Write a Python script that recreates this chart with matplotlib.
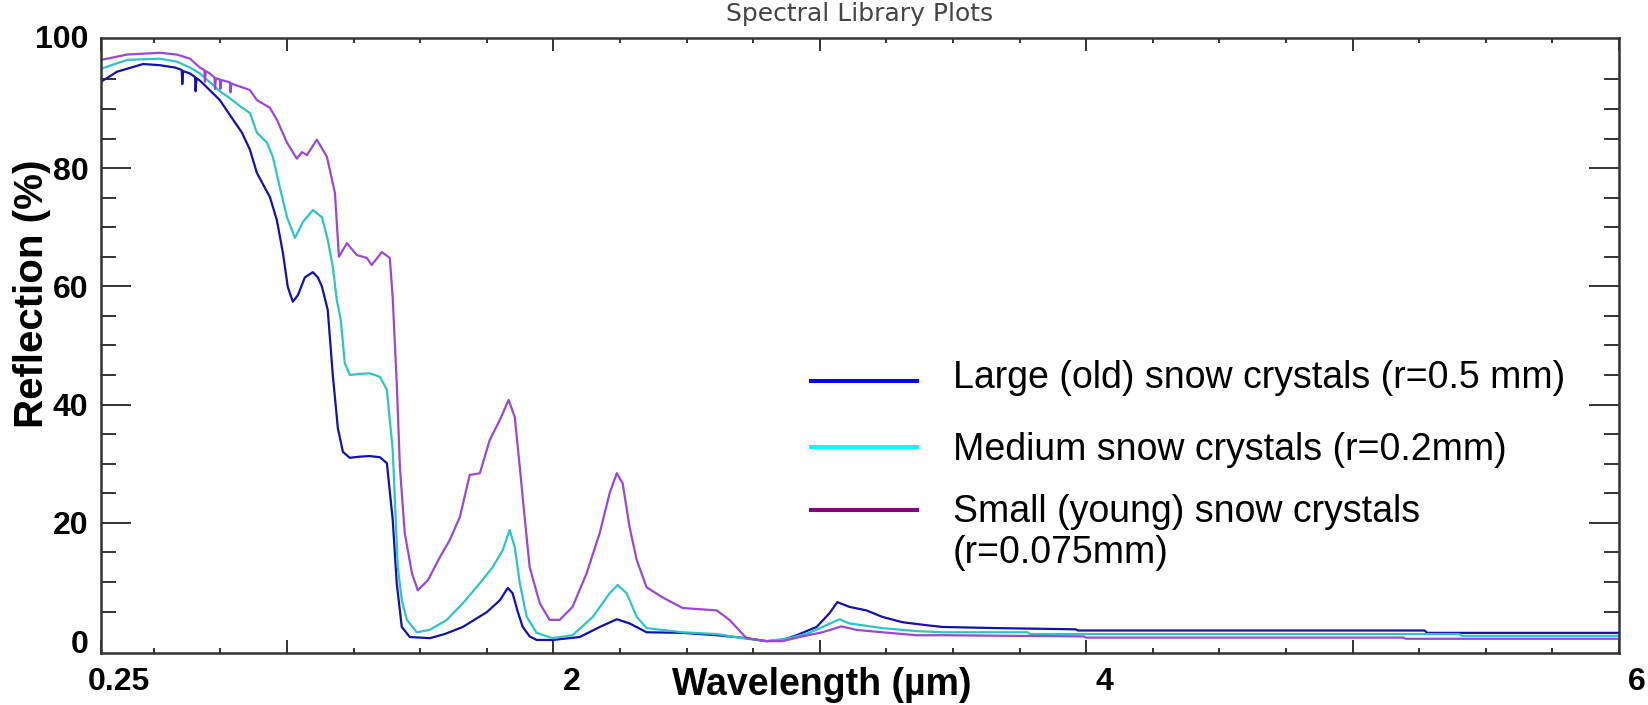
import matplotlib.pyplot as plt
from matplotlib.transforms import ScaledTranslation

plt.rcParams['font.family'] = ['Liberation Sans', 'DejaVu Sans']

# wavelength (um) / reflection (%)
wl_large = [0.302, 0.362, 0.460, 0.523, 0.580, 0.605, 0.607, 0.610, 0.636, 0.655, 0.657, 0.660,
            0.673, 0.703, 0.748, 0.793, 0.831, 0.861, 0.887, 0.913, 0.936, 0.962, 0.985, 1.003,
            1.022, 1.041, 1.067, 1.097, 1.116, 1.131, 1.153, 1.172, 1.191, 1.210, 1.236, 1.273,
            1.311, 1.349, 1.375, 1.397, 1.412, 1.431, 1.461, 1.536, 1.592, 1.660, 1.750, 1.799,
            1.829, 1.847, 1.866, 1.885, 1.911, 1.937, 1.997, 2.099, 2.174, 2.238, 2.286, 2.350,
            2.485, 2.613, 2.725, 2.800, 2.860, 2.913, 2.988, 3.036, 3.066, 3.111, 3.175, 3.235,
            3.310, 3.400, 3.460, 3.670, 3.960, 3.970, 5.270, 5.280, 6.000]
refl_large = [94.6, 96.3, 97.6, 97.4, 97.0, 96.6, 94.2, 96.4, 96.0, 95.4, 93.0, 95.2,
              94.8, 93.5, 91.5, 88.5, 86.0, 83.1, 79.2, 77.0, 75.1, 71.2, 65.6, 59.9,
              57.4, 58.5, 61.5, 62.4, 61.5, 60.0, 56.0, 45.0, 36.0, 32.0, 31.0, 31.2,
              31.3, 31.1, 30.1, 20.5, 9.8, 2.4, 0.7, 0.5, 1.2, 2.4, 4.9, 6.9,
              9.0, 8.1, 5.0, 2.4, 0.8, 0.2, 0.2, 0.7, 2.4, 3.7, 3.0, 1.5,
              1.4, 1.0, 0.5, 0.0, 0.2, 1.0, 2.4, 4.7, 6.6, 5.8, 5.2, 4.1,
              3.2, 2.7, 2.4, 2.2, 2.0, 1.8, 1.8, 1.4, 1.4]

wl_medium = [0.302, 0.400, 0.523, 0.587, 0.636, 0.673, 0.711, 0.748, 0.786, 0.823, 0.861, 0.887,
             0.925, 0.947, 0.973, 1.000, 1.030, 1.060, 1.097, 1.131, 1.153, 1.172, 1.187, 1.202,
             1.217, 1.236, 1.273, 1.311, 1.349, 1.375, 1.397, 1.405, 1.416, 1.431, 1.450, 1.487,
             1.536, 1.600, 1.660, 1.724, 1.772, 1.810, 1.836, 1.855, 1.874, 1.900, 1.937, 1.997,
             2.072, 2.148, 2.211, 2.241, 2.275, 2.313, 2.350, 2.485, 2.613, 2.710, 2.800, 2.886,
             2.961, 3.025, 3.074, 3.111, 3.235, 3.363, 3.460, 3.780, 3.790, 5.400, 5.410, 6.000]
refl_medium = [96.8, 98.3, 98.5, 98.0, 97.0, 96.0, 94.5, 93.0, 91.8, 90.5, 89.3, 86.0,
               84.3, 81.9, 76.8, 71.7, 68.2, 70.9, 72.9, 71.7, 67.9, 63.3, 57.7, 54.3,
               47.0, 45.0, 45.2, 45.3, 44.7, 42.5, 32.3, 23.9, 12.5, 6.9, 3.6, 1.5,
               1.9, 3.6, 6.4, 9.8, 12.5, 15.4, 18.8, 15.9, 9.8, 4.1, 1.4, 0.5,
               1.0, 4.1, 8.1, 9.5, 8.1, 4.1, 2.2, 1.5, 1.2, 0.5, 0.0, 0.5,
               1.4, 2.7, 3.7, 3.0, 2.2, 1.7, 1.5, 1.5, 1.2, 1.2, 0.9, 0.9]

wl_small = [0.302, 0.400, 0.523, 0.587, 0.636, 0.673, 0.690, 0.692, 0.695, 0.711, 0.728, 0.730,
            0.733, 0.748, 0.750, 0.753, 0.786, 0.788, 0.791, 0.823, 0.861, 0.887, 0.936, 0.962,
            1.000, 1.037, 1.056, 1.075, 1.112, 1.150, 1.180, 1.195, 1.225, 1.262, 1.300, 1.318,
            1.356, 1.386, 1.397, 1.412, 1.424, 1.442, 1.469, 1.491, 1.529, 1.574, 1.611, 1.649,
            1.686, 1.724, 1.761, 1.799, 1.832, 1.855, 1.874, 1.892, 1.911, 1.949, 1.986, 2.024,
            2.072, 2.125, 2.174, 2.211, 2.238, 2.260, 2.286, 2.313, 2.350, 2.410, 2.485, 2.613,
            2.661, 2.725, 2.800, 2.860, 2.924, 3.010, 3.081, 3.138, 3.235, 3.363, 3.460, 3.990,
            4.000, 5.190, 5.200, 6.000]
refl_small = [98.3, 99.2, 99.5, 99.2, 98.5, 97.0, 96.6, 94.6, 96.4, 96.0, 95.3, 93.4,
              95.2, 95.0, 93.4, 94.9, 94.5, 92.8, 94.3, 93.8, 93.2, 91.5, 90.2, 88.2,
              84.3, 81.6, 82.7, 82.2, 84.8, 81.9, 75.8, 65.0, 67.3, 65.3, 64.8, 63.6,
              65.8, 64.8, 58.0, 43.7, 29.4, 18.3, 11.5, 8.6, 10.3, 14.2, 17.1, 21.0,
              28.1, 28.4, 34.0, 37.4, 40.8, 37.9, 29.4, 21.0, 12.5, 6.4, 3.6, 3.6,
              5.8, 11.5, 18.3, 25.0, 28.4, 26.7, 19.3, 13.7, 9.1, 7.4, 5.6, 5.2,
              3.6, 0.5, 0.0, 0.0, 0.7, 1.5, 2.5, 1.9, 1.5, 1.0, 1.0, 0.8,
              0.6, 0.6, 0.4, 0.4]

legend_labels = ['Large (old) snow crystals (r=0.5 mm)',
                 'Medium snow crystals (r=0.2mm)',
                 'Small (young) snow crystals\n(r=0.075mm)']
legend_colors = ['#0000ff', '#00ffff', '#800080']
line_colors = ['#1212a8', '#2fc4c4', '#9a48d4']

x_ticks = [0.302, 1, 2, 3, 4, 5, 6]
x_labels = ['0.25', '', '2', '', '4', '', '6']
y_ticks = [0, 20, 40, 60, 80, 100]


def main():
    fig = plt.figure(figsize=(16.48, 7.05), dpi=100)
    ax = fig.add_axes([0.0613, 0.0738, 0.9211, 0.8723])

    for wl, refl, c in zip([wl_large, wl_medium, wl_small],
                           [refl_large, refl_medium, refl_small], line_colors):
        ax.plot(wl, refl, color=c, lw=1.6)

    ax.set_xlim(0.302, 6)
    ax.set_ylim(-2.0, 102.0)

    ax.set_xticks(x_ticks, x_labels)
    ax.set_xticks([0.5 + 0.25 * i for i in range(23) if (0.5 + 0.25 * i) % 1 != 0], minor=True)
    ax.set_yticks(y_ticks, [str(v) for v in y_ticks])
    ax.set_yticks([v for v in range(5, 100, 5) if v % 20 != 0], minor=True)

    ax.tick_params(which='both', direction='in', top=True, right=True, color='#333333', width=1.4)
    ax.tick_params(axis='x', which='major', length=9.5, labelsize=23, pad=10)
    ax.tick_params(axis='x', which='minor', length=3.6)
    ax.tick_params(axis='y', which='major', length=21.6, labelsize=23, pad=9)
    ax.tick_params(axis='y', which='minor', length=10.8)
    for lab in ax.get_xticklabels() + ax.get_yticklabels():
        lab.set_fontweight('bold')

    # no tick marks at 0 and 100 in the reference, only the labels
    for t in (ax.yaxis.get_major_ticks()[0], ax.yaxis.get_major_ticks()[-1]):
        t.tick1line.set_visible(False)
        t.tick2line.set_visible(False)

    # labels in the reference sit a bit to the right of their ticks
    shift = ScaledTranslation(0.18, 0, fig.dpi_scale_trans)
    for lab in ax.get_xticklabels():
        lab.set_transform(lab.get_transform() + shift)
    top_lab = ax.get_yticklabels()[-1]
    top_lab.set_transform(top_lab.get_transform() + ScaledTranslation(0, 0.13, fig.dpi_scale_trans))

    for sp in ax.spines.values():
        sp.set_color('#333333')
        sp.set_linewidth(1.8)

    ax.set_xlabel('Wavelength (µm)', fontsize=27, fontweight='bold', va='center')
    ax.xaxis.set_label_coords(0.475, -0.052)
    ax.set_ylabel('Reflection (%)', fontsize=29, fontweight='bold', va='center')
    ax.yaxis.set_label_coords(-0.0455, 0.584)

    # y given explicitly so matplotlib does not push the title up
    ax.set_title('Spectral Library Plots', fontsize=18, color='#444444',
                 family='DejaVu Sans', y=1.0, pad=12)

    # legend drawn by hand to mimic the slide layout
    line_y = [0.442, 0.335, 0.2325]
    text_y = [0.447, 0.330, 0.196]
    for ly, ty, lab, c in zip(line_y, text_y, legend_labels, legend_colors):
        ax.plot([0.468, 0.5375], [ly, ly], color=c, lw=2.9, transform=ax.transAxes)
        ax.text(0.561, ty, lab, fontsize=27, va='center', ha='left', transform=ax.transAxes)

    fig.savefig('out.png', dpi=100)


if __name__ == "__main__":
    main()
